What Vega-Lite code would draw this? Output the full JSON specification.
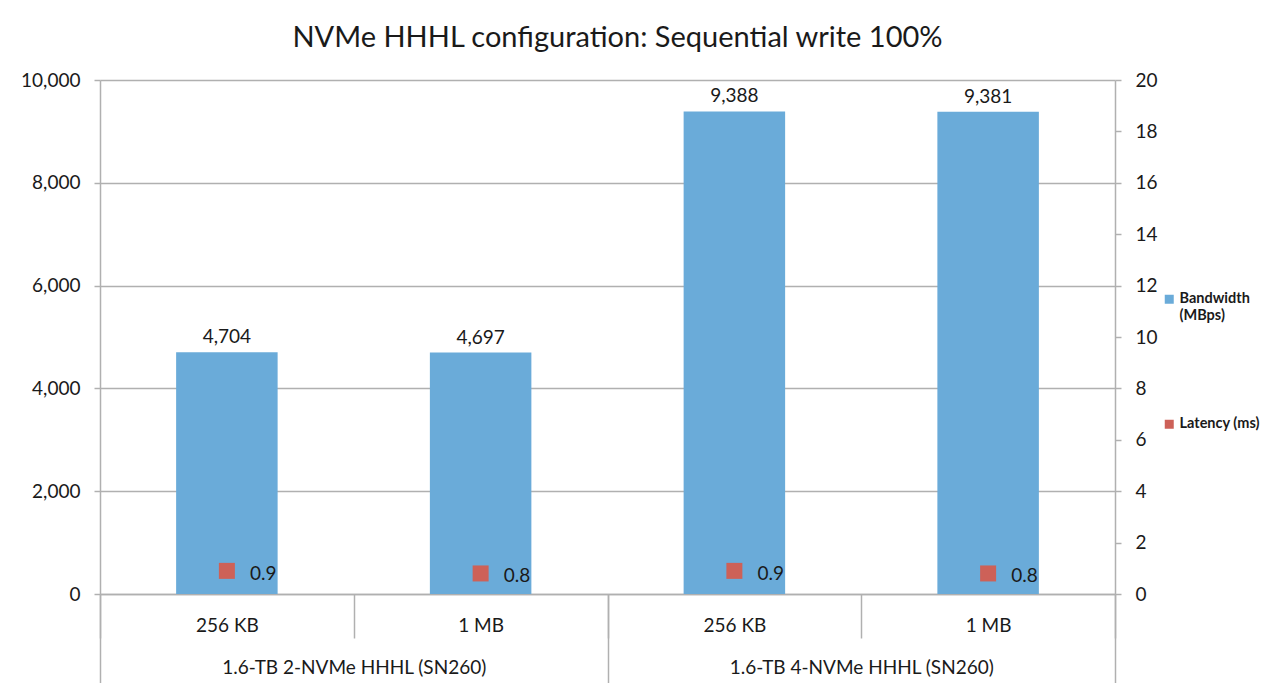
{
  "$schema": "https://vega.github.io/schema/vega-lite/v6.json",
  "width": 1015,
  "height": 514,
  "autosize": {"type": "none"},
  "padding": {"left": 100, "top": 80, "right": 154, "bottom": 89},
  "background": "white",
  "config": {
    "font": "Lato",
    "view": {"stroke": null},
    "axis": {
      "domainColor": "#b0b0b0",
      "tickColor": "#b0b0b0",
      "gridColor": "#b0b0b0",
      "labelColor": "#1a1a1a",
      "labelFont": "Lato",
      "labelFontSize": 19,
      "domainWidth": 1.5,
      "tickWidth": 1.5,
      "gridWidth": 1.5
    }
  },
  "title": {
    "text": "NVMe HHHL configuration: Sequential write 100%",
    "font": "Lato",
    "fontSize": 29,
    "fontWeight": "normal",
    "color": "#1a1a1a",
    "anchor": "middle",
    "frame": "group",
    "baseline": "alphabetic",
    "offset": -5,
    "dx": 10
  },
  "data": {
    "values": [
      {"config": "1.6-TB 2-NVMe HHHL (SN260)", "block": "256 KB", "cat": "2|256 KB", "bandwidth": 4704, "latency": 0.9},
      {"config": "1.6-TB 2-NVMe HHHL (SN260)", "block": "1 MB", "cat": "2|1 MB", "bandwidth": 4697, "latency": 0.8},
      {"config": "1.6-TB 4-NVMe HHHL (SN260)", "block": "256 KB", "cat": "4|256 KB", "bandwidth": 9388, "latency": 0.9},
      {"config": "1.6-TB 4-NVMe HHHL (SN260)", "block": "1 MB", "cat": "4|1 MB", "bandwidth": 9381, "latency": 0.8}
    ]
  },
  "layer": [
    {
      "mark": {"type": "rule", "strokeOpacity": 0},
      "encoding": {
        "x": {
          "field": "config",
          "type": "nominal",
          "sort": null,
          "scale": {"paddingInner": 0, "paddingOuter": 0},
          "axis": {
            "orient": "bottom",
            "title": null,
            "domain": false,
            "labelAngle": 0,
            "labelLimit": 0,
            "tickBand": "extent",
            "tickSize": 89,
            "labelPadding": -25
          }
        }
      }
    },
    {
      "layer": [
        {
          "layer": [
            {
              "mark": {"type": "bar", "width": {"band": 0.4}},
              "encoding": {
                "x": {
                  "field": "cat",
                  "type": "nominal",
                  "sort": null,
                  "scale": {"paddingInner": 0, "paddingOuter": 0},
                  "axis": {
                    "orient": "bottom",
                    "title": null,
                    "labelAngle": 0,
                    "labelExpr": "split(datum.label, '|')[1]",
                    "tickBand": "extent",
                    "tickSize": 44,
                    "labelPadding": -22
                  }
                },
                "y": {
                  "field": "bandwidth",
                  "type": "quantitative",
                  "scale": {"domain": [0, 10000], "nice": false},
                  "axis": {
                    "title": null,
                    "orient": "left",
                    "values": [0, 2000, 4000, 6000, 8000, 10000],
                    "format": ",.0f",
                    "grid": true,
                    "tickSize": 6,
                    "labelPadding": 14
                  }
                },
                "color": {
                  "datum": "Bandwidth (MBps)",
                  "type": "nominal",
                  "scale": {"domain": ["Bandwidth (MBps)", "Latency (ms)"], "range": ["#6aabd9", "#cd6158"]},
                  "legend": {
                    "title": null,
                    "orient": "none",
                    "legendX": 1062,
                    "legendY": 212,
                    "symbolType": "square",
                    "symbolSize": 81,
                    "symbolStrokeWidth": 0,
                    "labelFont": "Lato",
                    "labelFontSize": 14.5,
                    "labelFontWeight": "bold",
                    "labelColor": "#1a1a1a",
                    "labelOffset": 3,
                    "rowPadding": 93,
                    "labelExpr": "datum.label == 'Bandwidth (MBps)' ? ['Bandwidth', '(MBps)'] : datum.label"
                  }
                }
              }
            },
            {
              "mark": {"type": "text", "baseline": "alphabetic", "dy": -9, "fontSize": 19, "color": "#1a1a1a"},
              "encoding": {
                "x": {"field": "cat", "type": "nominal", "sort": null},
                "y": {"field": "bandwidth", "type": "quantitative"},
                "text": {"field": "bandwidth", "type": "quantitative", "format": ",.0f"}
              }
            }
          ]
        },
        {
          "layer": [
            {
              "mark": {"type": "point", "shape": "square", "filled": true, "size": 256, "opacity": 1},
              "encoding": {
                "x": {"field": "cat", "type": "nominal", "sort": null},
                "y": {
                  "field": "latency",
                  "type": "quantitative",
                  "scale": {"domain": [0, 20], "nice": false},
                  "axis": {
                    "title": null,
                    "orient": "right",
                    "values": [0, 2, 4, 6, 8, 10, 12, 14, 16, 18, 20],
                    "grid": false,
                    "tickSize": 6,
                    "labelPadding": 14
                  }
                },
                "color": {"datum": "Latency (ms)", "type": "nominal"}
              }
            },
            {
              "mark": {"type": "text", "align": "left", "baseline": "middle", "dx": 23, "dy": 3, "fontSize": 19, "color": "#1a1a1a"},
              "encoding": {
                "x": {"field": "cat", "type": "nominal", "sort": null},
                "y": {"field": "latency", "type": "quantitative"},
                "text": {"field": "latency", "type": "quantitative", "format": ".1f"}
              }
            }
          ]
        }
      ],
      "resolve": {"scale": {"y": "independent"}}
    }
  ],
  "resolve": {"scale": {"x": "independent"}}
}
